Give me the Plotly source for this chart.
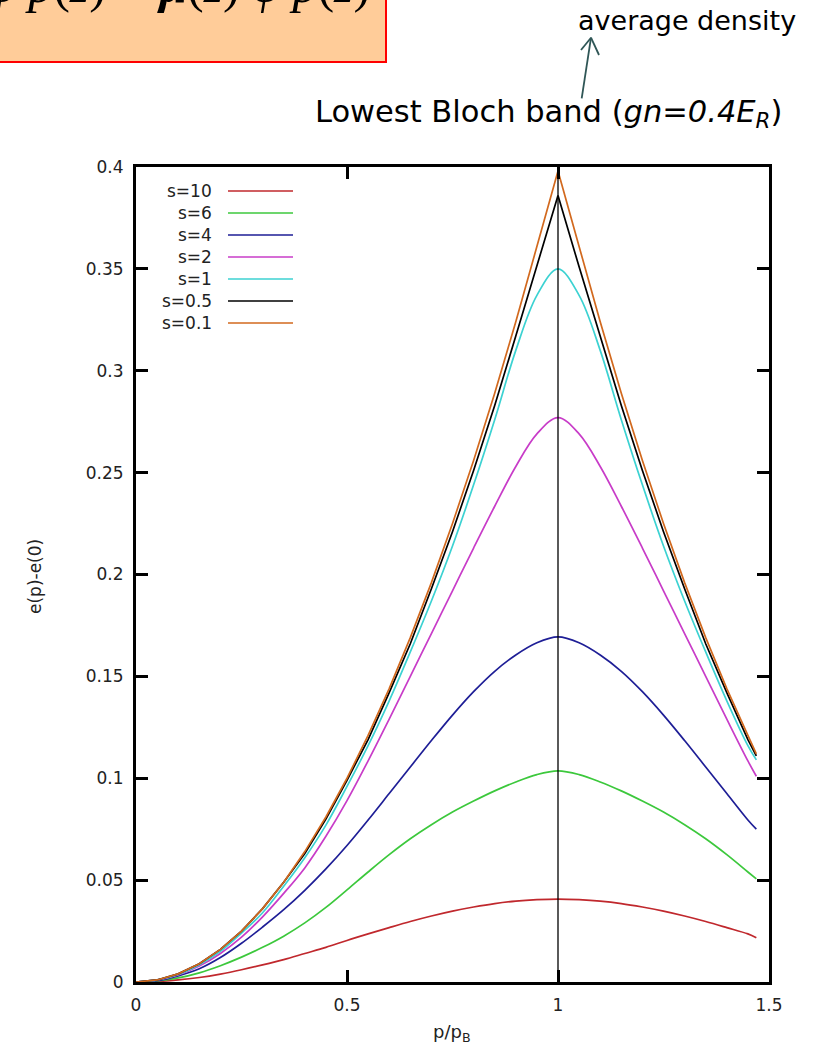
import plotly.graph_objects as go

# ---------------- data ----------------
P = [0, 0.05, 0.1, 0.15, 0.2, 0.25, 0.3, 0.35, 0.4, 0.45, 0.5, 0.55, 0.6, 0.65, 0.7,
     0.75, 0.8, 0.85, 0.9, 0.95, 1.0, 1.05, 1.1, 1.15, 1.2, 1.25, 1.3, 1.35, 1.4, 1.45, 1.47]

SERIES_NAMES = ["s=10", "s=6", "s=4", "s=2", "s=1", "s=0.5", "s=0.1"]

E_S10 = [0, 0.00025, 0.001, 0.0022, 0.0039, 0.006, 0.0084, 0.011, 0.014, 0.017, 0.0204,
         0.0236, 0.0267, 0.0297, 0.0324, 0.0348, 0.0368, 0.0385, 0.0397, 0.0404, 0.0407,
         0.0404, 0.0397, 0.0385, 0.0368, 0.0348, 0.0324, 0.0297, 0.0267, 0.0236, 0.0217]
E_S6 = [0, 0.0005, 0.002, 0.0045, 0.008, 0.0122, 0.0170, 0.0225, 0.0290, 0.0366, 0.0452,
        0.0540, 0.0625, 0.0703, 0.0772, 0.0834, 0.0888, 0.0938, 0.0982, 0.1018, 0.1036,
        0.1018, 0.0982, 0.0938, 0.0888, 0.0834, 0.0772, 0.0703, 0.0625, 0.0540, 0.0506]
E_S4 = [0, 0.0007, 0.003, 0.0065, 0.012, 0.019, 0.027, 0.0355, 0.045, 0.0555, 0.0670,
        0.0795, 0.0925, 0.1055, 0.1185, 0.1310, 0.1425, 0.1525, 0.1605, 0.1665, 0.1694,
        0.1665, 0.1605, 0.1525, 0.1425, 0.1310, 0.1185, 0.1055, 0.0925, 0.0795, 0.0750]
E_S2 = [0, 0.001, 0.0035, 0.0078, 0.014, 0.022, 0.032, 0.0435, 0.056, 0.0715, 0.0890,
        0.1085, 0.1290, 0.1500, 0.1710, 0.1920, 0.2130, 0.2335, 0.2530, 0.2690, 0.2770,
        0.2690, 0.2530, 0.2335, 0.2130, 0.1920, 0.1710, 0.1500, 0.1290, 0.1085, 0.1010]
E_S1 = [0, 0.001, 0.0037, 0.0085, 0.015, 0.024, 0.034, 0.047, 0.061, 0.077, 0.096,
        0.116, 0.138, 0.162, 0.187, 0.214, 0.244, 0.276, 0.310, 0.337, 0.350,
        0.337, 0.310, 0.276, 0.244, 0.214, 0.187, 0.162, 0.138, 0.116, 0.109]
E_S05 = [0, 0.001, 0.004, 0.009, 0.016, 0.025, 0.036, 0.049, 0.063, 0.080, 0.099,
         0.119, 0.142, 0.166, 0.193, 0.221, 0.251, 0.283, 0.317, 0.351, 0.386,
         0.351, 0.317, 0.283, 0.251, 0.221, 0.193, 0.166, 0.142, 0.119, 0.111]
E_S01 = [0, 0.001, 0.004, 0.009, 0.016, 0.025, 0.036, 0.049, 0.064, 0.081, 0.100,
         0.121, 0.144, 0.169, 0.196, 0.225, 0.256, 0.289, 0.324, 0.361, 0.398,
         0.361, 0.324, 0.289, 0.256, 0.225, 0.196, 0.169, 0.144, 0.121, 0.112]

SERIES_VALUES = [E_S10, E_S6, E_S4, E_S2, E_S1, E_S05, E_S01]
COLORS = ["#C0282D", "#3CC83C", "#1E1E96", "#C83CC8", "#3CD2D2", "#000000", "#D2691E"]
# smooth band tops for the deeper lattices, cusp for the shallow ones
LINE_SHAPES = ["spline", "spline", "spline", "spline", "spline", "linear", "linear"]

X_TICKS = [0, 0.5, 1, 1.5]
X_TICK_LABELS = ["0", "0.5", "1", "1.5"]
Y_TICKS = [0, 0.05, 0.1, 0.15, 0.2, 0.25, 0.3, 0.35, 0.4]
Y_TICK_LABELS = ["0", "0.05", "0.1", "0.15", "0.2", "0.25", "0.3", "0.35", "0.4"]
PEAK_P = 1.0

# ---------------- layout geometry ----------------
W, H = 814, 1053
ML, MR, MT, MB = 136, 45, 167, 71
PW, PH = W - ML - MR, H - MT - MB


def px(x):
    return (x - ML) / PW


def py(y):
    return (H - MB - y) / PH


FONT = "DejaVu Sans, Arial, sans-serif"

fig = go.Figure()
for name, ys, col, shp in zip(SERIES_NAMES, SERIES_VALUES, COLORS, LINE_SHAPES):
    line = dict(color=col, width=1.7, shape=shp)
    if shp == "spline":
        line["smoothing"] = 1.0
    fig.add_trace(go.Scatter(x=P, y=ys, mode="lines", name=name, line=line, showlegend=False))

shapes = []
# vertical line at the zone edge
shapes.append(dict(type="line", xref="x", yref="paper", x0=PEAK_P, x1=PEAK_P, y0=0, y1=1,
                   line=dict(color="black", width=1.3)))

annotations = []
# key (gnuplot style: label on the left, sample on the right)
for i, (name, col) in enumerate(zip(SERIES_NAMES, COLORS)):
    yk = 191 + 22 * i
    annotations.append(dict(xref="paper", yref="paper", x=px(214), y=py(yk), xanchor="right",
                            yanchor="middle", text=name, showarrow=False,
                            font=dict(family=FONT, size=17, color="#222")))
    shapes.append(dict(type="line", xref="paper", yref="paper", x0=px(228), x1=px(293),
                       y0=py(yk), y1=py(yk), line=dict(color=col, width=1.7)))

# peach formula box (cut by the top of the page)
shapes.append(dict(type="rect", xref="paper", yref="paper", x0=px(-10), x1=px(386),
                   y0=py(62), y1=py(-10), fillcolor="#FFCC99", line=dict(color="#FF0000", width=2)))
annotations.append(dict(xref="paper", yref="paper", x=px(372), y=py(-15), xanchor="right",
                        yanchor="middle", showarrow=False,
                        text="<i>φ p</i>(<i>z</i>) = <b><i>μ</i></b>(<i>z</i>) <i>φ p</i>(<i>z</i>)",
                        font=dict(family="Liberation Serif, Times New Roman, serif", size=50,
                                  color="black")))

# arrow to "average density"
arrow_col = "#2F5656"
shapes.append(dict(type="line", xref="paper", yref="paper", x0=px(581.7), y0=py(98.3),
                   x1=px(591), y1=py(37.7), line=dict(color=arrow_col, width=1.8)))
shapes.append(dict(type="line", xref="paper", yref="paper", x0=px(581), y0=py(50),
                   x1=px(591), y1=py(37.7), line=dict(color=arrow_col, width=1.8)))
shapes.append(dict(type="line", xref="paper", yref="paper", x0=px(599), y0=py(55),
                   x1=px(591), y1=py(37.7), line=dict(color=arrow_col, width=1.8)))
annotations.append(dict(xref="paper", yref="paper", x=px(687), y=py(21), xanchor="center",
                        yanchor="middle", text="average density", showarrow=False,
                        font=dict(family=FONT, size=27, color="black")))

# title
annotations.append(dict(xref="paper", yref="paper", x=px(548), y=py(114), xanchor="center",
                        yanchor="middle", showarrow=False,
                        text="Lowest Bloch band (<i>gn=0.4E<sub>R</sub></i>)",
                        font=dict(family=FONT, size=30.5, color="black")))

# axis titles
annotations.append(dict(xref="paper", yref="paper", x=px(35), y=py(577), xanchor="center",
                        yanchor="middle", showarrow=False, textangle=-90, text="e(p)-e(0)",
                        font=dict(family=FONT, size=17, color="#222")))
annotations.append(dict(xref="paper", yref="paper", x=px(452), y=py(1033), xanchor="center",
                        yanchor="middle", showarrow=False, text="p/p<sub>B</sub>",
                        font=dict(family=FONT, size=18, color="#222")))

axis_common = dict(ticks="inside", ticklen=12, tickwidth=2.5, tickcolor="black",
                   showline=True, linewidth=3, linecolor="black", mirror="ticks",
                   showgrid=False, zeroline=False,
                   tickfont=dict(family=FONT, size=17, color="#222"))

fig.update_layout(
    width=W, height=H, margin=dict(l=ML, r=MR, t=MT, b=MB),
    paper_bgcolor="white", plot_bgcolor="white",
    shapes=shapes, annotations=annotations, showlegend=False,
    xaxis=dict(range=[0, 1.5], tickvals=X_TICKS, ticktext=X_TICK_LABELS,
               ticklabelstandoff=6, **axis_common),
    yaxis=dict(range=[0, 0.4], tickvals=Y_TICKS, ticktext=Y_TICK_LABELS,
               ticklabelstandoff=6, **axis_common),
)

fig.write_html("out.html")
